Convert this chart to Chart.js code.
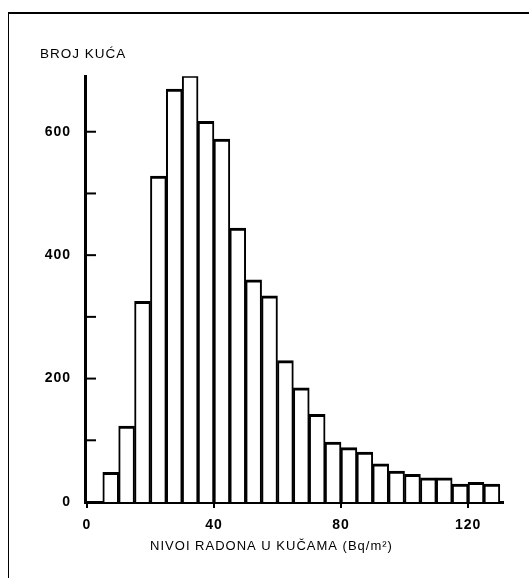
<!DOCTYPE html>
<html>
<head>
<meta charset="utf-8">
<script src="https://cdn.jsdelivr.net/npm/chart.js@4"></script>
<style>
  html, body { margin: 0; padding: 0; background: #fff; }
  #wrap { position: relative; width: 529px; height: 578px; }
  #frame {
    position: absolute; left: 8px; top: 12px; right: 0; bottom: 0;
    border-top: 2px solid #000; border-left: 1px solid #000;
    pointer-events: none;
  }
</style>
</head>
<body>
<div id="wrap">
  <canvas id="radonChart" width="529" height="578"></canvas>
  <div id="frame"></div>
</div>
<script>
// bins are 5 Bq wide, listed by their lower edge
const binStarts = [5, 10, 15, 20, 25, 30, 35, 40, 45, 50, 55, 60, 65,
                   70, 75, 80, 85, 90, 95, 100, 105, 110, 115, 120, 125]
const houseCounts = [48, 123, 325, 528, 669, 692, 617, 588, 444, 360, 334, 229, 185,
                     142, 97, 88, 81, 62, 50, 45, 39, 39, 29, 32, 29]
const binWidth = 5

const xTickValues = [0, 40, 80, 120]
const yTickValues = [0, 200, 400, 600]
const yMarkValues = [100, 200, 300, 400, 500, 600] // short inward marks

const yTitle = 'BROJ KUĆA'
const xTitle = 'NIVOI RADONA U KUČAMA (Bq/m²)'

const barPoints = binStarts.map((start, i) => ({ x: start + binWidth / 2, y: houseCounts[i] }))

// letter spacing like the typed original
const spacingPlugin = {
  id: 'spacing',
  beforeDraw(chart) {
    chart.ctx.letterSpacing = '1px'
  }
}

// y marks point into the plot, not outward
const innerTicks = {
  id: 'innerTicks',
  afterDraw(chart) {
    const ctx = chart.ctx
    const yScale = chart.scales.y
    const left = chart.chartArea.left
    ctx.save()
    ctx.strokeStyle = '#000'
    ctx.lineWidth = 2
    yMarkValues.forEach(v => {
      const y = yScale.getPixelForValue(v)
      ctx.beginPath()
      ctx.moveTo(left, y)
      ctx.lineTo(left + 11, y)
      ctx.stroke()
    })
    ctx.restore()
  }
}

const tickFont = { family: '"Liberation Sans", Arial, sans-serif', size: 14, weight: 'bold' }
const titleFont = { family: '"Liberation Sans", Arial, sans-serif', size: 13, weight: 'normal' }

new Chart(document.getElementById('radonChart'), {
  type: 'bar',
  data: {
    datasets: [{
      data: barPoints,
      backgroundColor: '#fff',
      borderColor: '#000',
      borderWidth: { top: 3, left: 2, right: 2, bottom: 0 },
      borderSkipped: false,
      barPercentage: 1,
      categoryPercentage: 1
    }]
  },
  options: {
    responsive: false,
    animation: false,
    layout: { padding: { left: 40, right: 26, top: 0, bottom: 0 } },
    plugins: {
      legend: { display: false },
      tooltip: { enabled: false },
      title: {
        display: true,
        text: yTitle,
        align: 'start',
        color: '#000',
        font: { ...titleFont, size: 13.5 },
        padding: { top: 46, bottom: 14 }
      },
      subtitle: {
        display: true,
        text: xTitle,
        position: 'bottom',
        align: 'center',
        color: '#000',
        font: titleFont,
        padding: { top: 4.4, bottom: 24 }
      }
    },
    scales: {
      x: {
        type: 'linear',
        offset: false,
        min: -0.6,
        max: 131,
        afterBuildTicks: scale => { scale.ticks = xTickValues.map(v => ({ value: v })) },
        afterFit: scale => { scale.height = 32 },
        ticks: { color: '#000', font: tickFont, padding: 9, maxRotation: 0 },
        grid: { offset: false, drawOnChartArea: false, drawTicks: true, tickLength: 6, color: '#000', lineWidth: 2 },
        border: { display: true, color: '#000', width: 3 }
      },
      y: {
        min: 0,
        max: 690,
        afterBuildTicks: scale => { scale.ticks = yTickValues.map(v => ({ value: v })) },
        afterFit: scale => { scale.width = 45 },
        ticks: { color: '#000', font: tickFont, padding: 14 },
        grid: { display: false, drawTicks: false },
        border: { display: true, color: '#000', width: 3 }
      }
    }
  },
  plugins: [spacingPlugin, innerTicks]
})
</script>
</body>
</html>
